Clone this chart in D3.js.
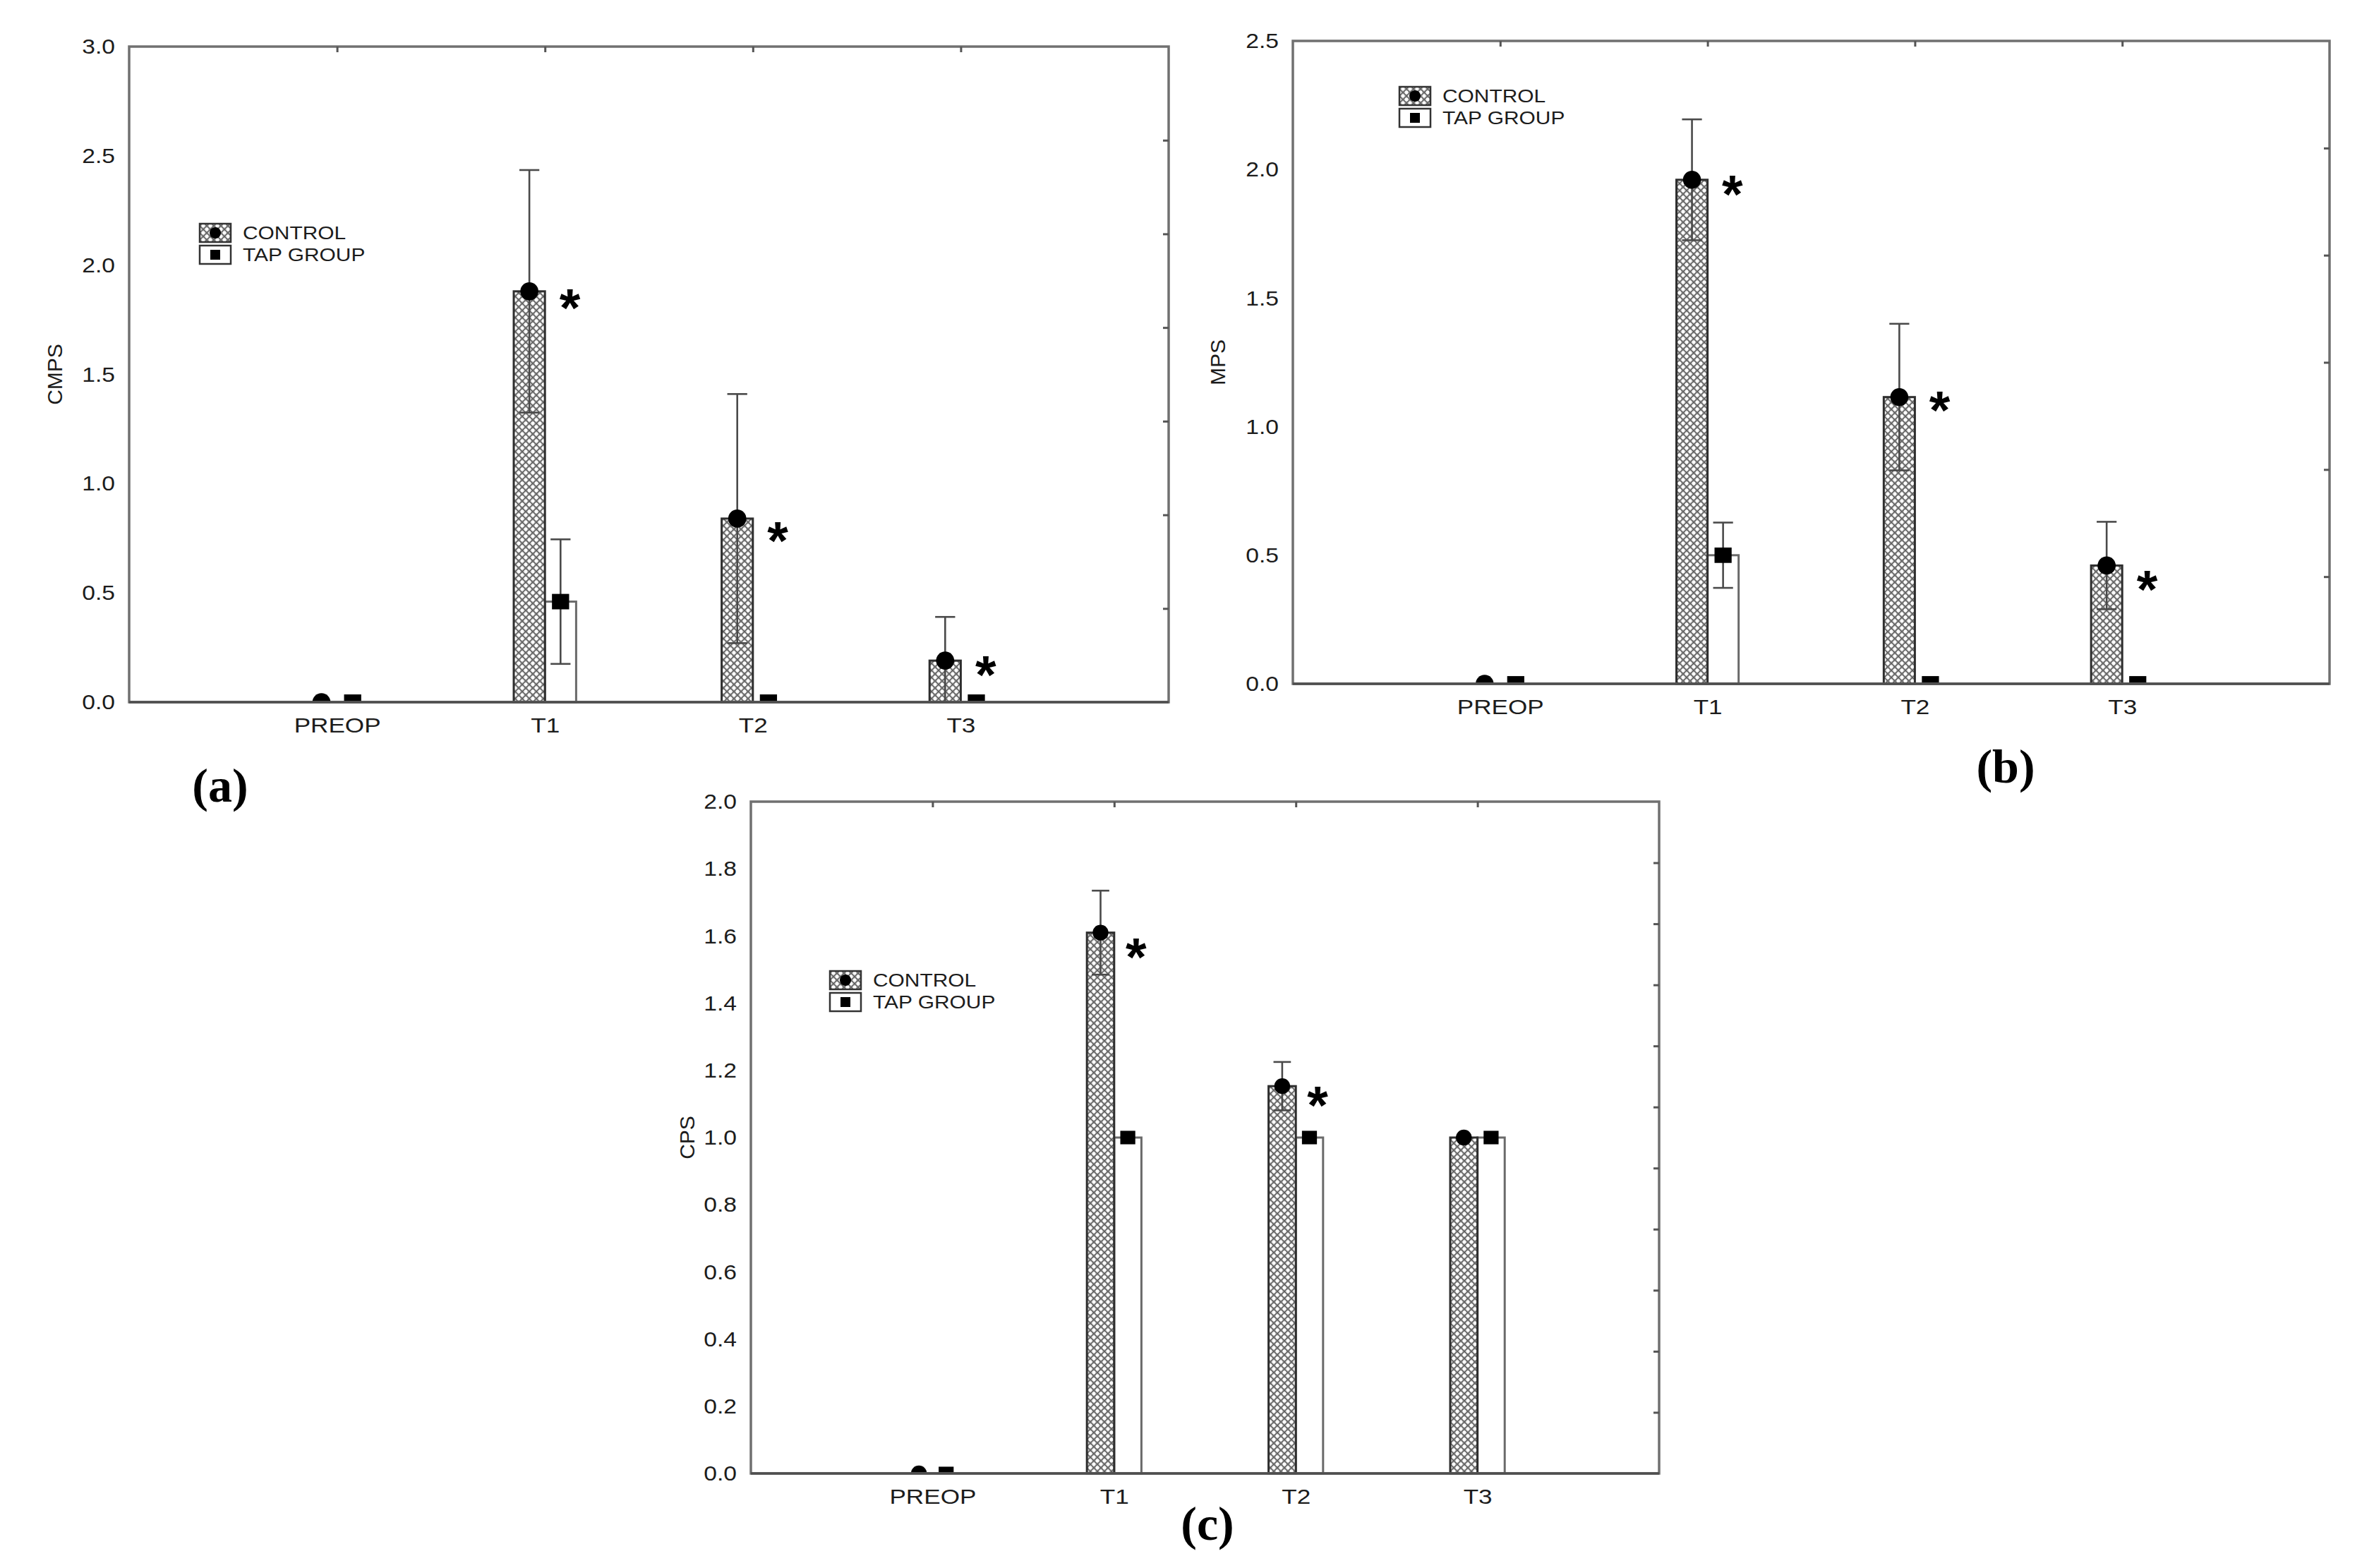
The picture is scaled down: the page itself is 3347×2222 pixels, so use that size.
<!DOCTYPE html>
<html>
<head>
<meta charset="utf-8">
<script src="https://cdn.jsdelivr.net/npm/d3@7"></script>
<style>
  html, body { margin: 0; padding: 0; background: #fff; }
  svg text { font-family: "Liberation Sans", Arial, sans-serif; fill: #1c1c1c; }
</style>
</head>
<body>
<svg id="chart" width="3347" height="2222"></svg>
<script>
// categories on the x axis (same for all three panels)
const categories = ["PREOP", "T1", "T2", "T3"];
const seriesNames = ["CONTROL", "TAP GROUP"];

// (a) CMPS
const cmpsControl   = [0, 1.88, 0.84, 0.19];
const cmpsControlSd = [0, 0.555, 0.57, 0.20];
const cmpsTap       = [0, 0.46, 0, 0];
const cmpsTapSd     = [0, 0.285, 0, 0];
const cmpsStars     = [null, 1.855, 0.79, 0.177];

// (b) MPS
const mpsControl   = [0, 1.96, 1.115, 0.46];
const mpsControlSd = [0, 0.235, 0.285, 0.17];
const mpsTap       = [0, 0.50, 0, 0];
const mpsTapSd     = [0, 0.127, 0, 0];
const mpsStars     = [null, 1.948, 1.107, 0.41];

// (c) CPS
const cpsControl   = [0, 1.61, 1.153, 1.0];
const cpsControlSd = [0, 0.125, 0.072, 0];
const cpsTap       = [0, 1.0, 1.0, 1.0];
const cpsTapSd     = [0, 0, 0, 0];
const cpsStars     = [null, 1.572, 1.13, null];

// y axis ranges / tick steps
const yMaxes  = [3.0, 2.5, 2.0];
const ySteps  = [0.5, 0.5, 0.2];
const yTitles = ["CMPS", "MPS", "CPS"];
const panelTags = ["(a)", "(b)", "(c)"];

const svg = d3.select("#chart");
svg.append("rect").attr("width", 3347).attr("height", 2222).attr("fill", "#fff");

// crosshatch fill used by the control bars
const defs = svg.append("defs");
const pat = defs.append("pattern")
  .attr("id", "hatch")
  .attr("patternUnits", "userSpaceOnUse")
  .attr("width", 10).attr("height", 10);
pat.append("rect").attr("width", 10).attr("height", 10).attr("fill", "#b4b4b4");
pat.append("path").attr("d", "M0,0L10,10M10,0L0,10")
  .attr("stroke", "#5e5e5e").attr("stroke-width", 1.3);
[[5, 0], [0, 5], [10, 5], [5, 10]].forEach(p => {
  pat.append("circle").attr("cx", p[0]).attr("cy", p[1]).attr("r", 2.4).attr("fill", "#fff");
});

// the source figure's lettering is a bit wider than Liberation Sans
function stretch(sel, f) {
  sel.each(function () {
    const w = this.getComputedTextLength();
    d3.select(this).attr("textLength", w * f).attr("lengthAdjust", "spacingAndGlyphs");
  });
}

// panel layout (pixels)
const panels = [
  { left: 183, top: 66, right: 1656, bottom: 995, rightTicks: 7, titleDx: -106,
    legX: 100, legY: 264, tagX: 312, tagY: 1112,
    control: cmpsControl, controlSd: cmpsControlSd, tap: cmpsTap, tapSd: cmpsTapSd, stars: cmpsStars },
  { left: 1832, top: 58, right: 3301, bottom: 969, rightTicks: 6, titleDx: -107,
    legX: 151, legY: 78, tagX: 2842, tagY: 1085,
    control: mpsControl, controlSd: mpsControlSd, tap: mpsTap, tapSd: mpsTapSd, stars: mpsStars },
  { left: 1064, top: 1136, right: 2351, bottom: 2088, rightTicks: 11, titleDx: -91,
    legX: 112, legY: 253, tagX: 1711, tagY: 2158,
    control: cpsControl, controlSd: cpsControlSd, tap: cpsTap, tapSd: cpsTapSd, stars: cpsStars }
];

panels.forEach((p, k) => drawPanel(p, k));

function drawPanel(p, k) {
  const g = svg.append("g");
  const yMax = yMaxes[k];

  const x = d3.scaleLinear().domain([0, categories.length + 1]).range([p.left, p.right]);
  const y = d3.scaleLinear().domain([0, yMax]).range([p.bottom, p.top]);
  const bw = x(0.15) - x(0);

  const clipId = "clip" + k;
  defs.append("clipPath").attr("id", clipId)
    .append("rect")
    .attr("x", p.left).attr("y", p.top)
    .attr("width", p.right - p.left).attr("height", p.bottom - p.top);

  // bars
  const rows = categories.map((c, i) => ({
    i: i, c: c,
    control: p.control[i], controlSd: p.controlSd[i],
    tap: p.tap[i], tapSd: p.tapSd[i], star: p.stars[i]
  }));

  g.selectAll(".tapbar").data(rows).enter().append("rect")
    .attr("x", d => x(d.i + 1))
    .attr("y", d => y(d.tap))
    .attr("width", bw)
    .attr("height", d => y(0) - y(d.tap))
    .attr("fill", "#fff")
    .attr("stroke", "#6a6a6a")
    .attr("stroke-width", 3);

  g.selectAll(".ctlbar").data(rows).enter().append("rect")
    .attr("x", d => x(d.i + 1) - bw)
    .attr("y", d => y(d.control))
    .attr("width", bw)
    .attr("height", d => y(0) - y(d.control))
    .attr("fill", "url(#hatch)")
    .attr("stroke", "#2e2e2e")
    .attr("stroke-width", 3);

  // error bars + markers (clipped to the plot area)
  const inner = g.append("g").attr("clip-path", "url(#" + clipId + ")");
  const cap = bw * 0.32;
  const errs = [];
  rows.forEach(d => {
    if (d.controlSd > 0) errs.push({ cx: x(d.i + 1) - bw / 2, m: d.control, s: d.controlSd });
    if (d.tapSd > 0) errs.push({ cx: x(d.i + 1) + bw / 2, m: d.tap, s: d.tapSd });
  });
  const eb = inner.selectAll(".err").data(errs).enter().append("g")
    .attr("stroke", "#4a4a4a").attr("stroke-width", 2.6);
  eb.append("line")
    .attr("x1", d => d.cx).attr("x2", d => d.cx)
    .attr("y1", d => y(d.m - d.s)).attr("y2", d => y(d.m + d.s));
  eb.append("line")
    .attr("x1", d => d.cx - cap).attr("x2", d => d.cx + cap)
    .attr("y1", d => y(d.m + d.s)).attr("y2", d => y(d.m + d.s));
  eb.append("line")
    .attr("x1", d => d.cx - cap).attr("x2", d => d.cx + cap)
    .attr("y1", d => y(d.m - d.s)).attr("y2", d => y(d.m - d.s));

  const r = bw * 0.29;
  inner.selectAll(".dot").data(rows).enter().append("circle")
    .attr("cx", d => x(d.i + 1) - bw / 2)
    .attr("cy", d => y(d.control))
    .attr("r", r)
    .attr("fill", "#000");
  const sq = bw * 0.55;
  inner.selectAll(".sq").data(rows).enter().append("rect")
    .attr("x", d => x(d.i + 1) + bw / 2 - sq / 2)
    .attr("y", d => y(d.tap) - sq * 0.45)
    .attr("width", sq).attr("height", sq * 0.9)
    .attr("fill", "#000");

  // significance stars
  g.selectAll(".star").data(rows.filter(d => d.star != null)).enter().append("text")
    .attr("x", d => x(d.i + 1) + bw * 0.8)
    .attr("y", d => y(d.star))
    .attr("dy", "0.55em")
    .attr("text-anchor", "middle")
    .style("font-size", "76px")
    .style("font-weight", "bold")
    .style("fill", "#000")
    .text("*");

  // frame
  g.append("rect")
    .attr("x", p.left).attr("y", p.top)
    .attr("width", p.right - p.left).attr("height", p.bottom - p.top)
    .attr("fill", "none").attr("stroke", "#707070").attr("stroke-width", 3.5);
  g.append("line")
    .attr("x1", p.left).attr("x2", p.right)
    .attr("y1", p.bottom).attr("y2", p.bottom)
    .attr("stroke", "#4f4f4f").attr("stroke-width", 3.5);

  // left axis labels
  const yAxis = d3.axisLeft(y)
    .tickValues(d3.range(0, yMax + 1e-9, ySteps[k]))
    .tickFormat(d3.format(".1f"))
    .tickSize(0).tickPadding(20);
  const ya = g.append("g").attr("transform", "translate(" + p.left + ",0)").call(yAxis);
  ya.select(".domain").remove();
  ya.selectAll("text").style("font-size", "30px").attr("fill", "#1c1c1c");
  stretch(ya.selectAll("text"), 1.12);

  // right side inner ticks
  const rt = d3.range(1, p.rightTicks).map(j => j * yMax / p.rightTicks);
  const ra = g.append("g").attr("transform", "translate(" + p.right + ",0)")
    .call(d3.axisRight(y).tickValues(rt).tickSize(-8).tickFormat(""));
  ra.select(".domain").remove();
  ra.selectAll("line").attr("stroke", "#555").attr("stroke-width", 3);

  // top inner ticks at categories
  const ta = g.append("g").attr("transform", "translate(0," + p.top + ")")
    .call(d3.axisTop(x).tickValues(d3.range(1, categories.length + 1)).tickSize(-8).tickFormat(""));
  ta.select(".domain").remove();
  ta.selectAll("line").attr("stroke", "#555").attr("stroke-width", 3);

  // category labels
  const xa = g.append("g").attr("transform", "translate(0," + p.bottom + ")")
    .call(d3.axisBottom(x).tickValues(d3.range(1, categories.length + 1))
      .tickFormat(v => categories[v - 1]).tickSize(0).tickPadding(22));
  xa.select(".domain").remove();
  xa.selectAll("text").style("font-size", "30px").attr("fill", "#1c1c1c");
  stretch(xa.selectAll("text"), 1.17);

  // y title
  g.append("text")
    .attr("transform", "translate(" + (p.left + p.titleDx) + "," + ((p.top + p.bottom) / 2) + ") rotate(-90)")
    .attr("text-anchor", "middle")
    .attr("dy", "0.35em")
    .style("font-size", "30px")
    .text(yTitles[k]);

  // legend
  const lg = g.append("g").attr("transform", "translate(" + (p.left + p.legX) + "," + (p.top + p.legY) + ")");
  const sw = 44, sh = 26, gap = 31;
  seriesNames.forEach((name, j) => {
    const row = lg.append("g").attr("transform", "translate(0," + (j * gap) + ")");
    row.append("rect")
      .attr("x", 0).attr("y", -sh / 2).attr("width", sw).attr("height", sh)
      .attr("fill", j === 0 ? "url(#hatch)" : "#fff")
      .attr("stroke", "#333").attr("stroke-width", 2.5);
    if (j === 0) {
      row.append("circle").attr("cx", sw / 2).attr("cy", 0).attr("r", 8).attr("fill", "#000");
    } else {
      row.append("rect").attr("x", sw / 2 - 7).attr("y", -7).attr("width", 14).attr("height", 14).attr("fill", "#000");
    }
    const t = row.append("text")
      .attr("x", sw + 17).attr("y", 0).attr("dy", "0.36em")
      .style("font-size", "26px")
      .text(name);
    stretch(t, 1.15);
  });

  // panel tag
  svg.append("text")
    .attr("x", p.tagX).attr("y", p.tagY)
    .attr("dy", "0.35em")
    .attr("text-anchor", "middle")
    .style("font-family", "'Liberation Serif', 'DejaVu Serif', serif")
    .style("font-weight", "bold")
    .style("font-size", "68px")
    .style("fill", "#000")
    .text(panelTags[k]);
}
</script>
</body>
</html>
